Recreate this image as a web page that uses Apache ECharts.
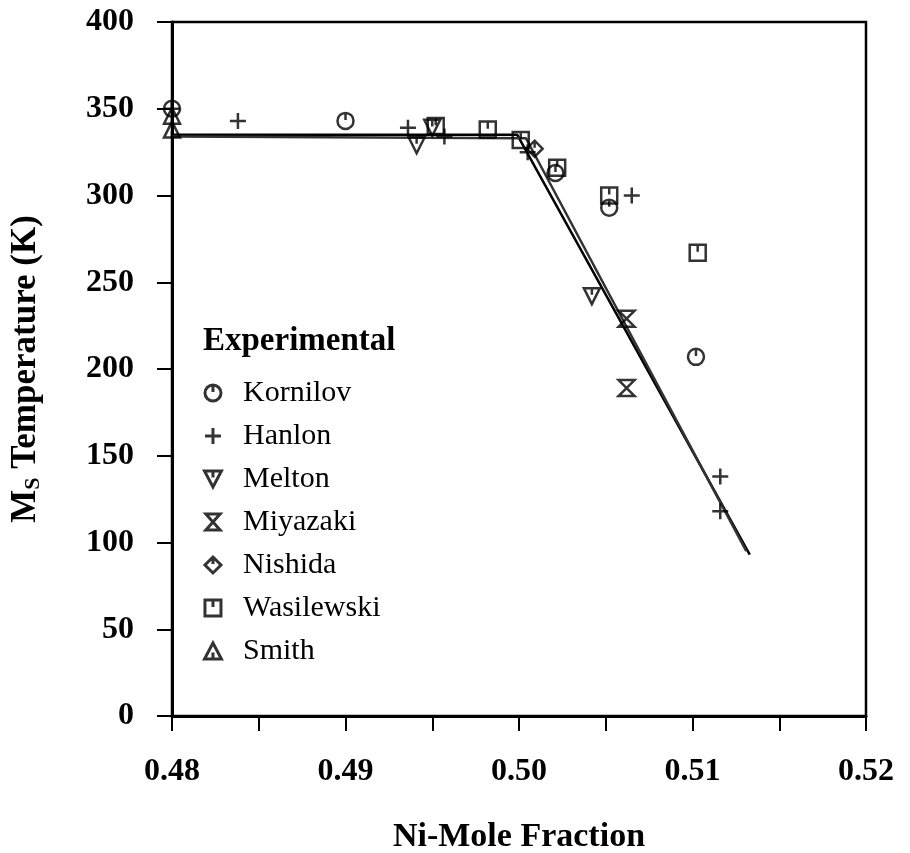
<!DOCTYPE html>
<html><head><meta charset="utf-8">
<script src="https://cdn.jsdelivr.net/npm/echarts@6/dist/echarts.min.js"></script>
<style>html,body{margin:0;padding:0;background:#fff}#c{width:910px;height:853px}</style>
</head><body><div id="c"></div>
<script>
// Data (Ni mole fraction, Ms temperature K)
const kornilov = [[0.48,350],[0.4900,343],[0.5021,313],[0.5052,293],[0.5102,207]];
const hanlon = [[0.48,350],[0.4838,343],[0.4936,339],[0.4957,334],[0.5005,325],[0.5065,300],[0.5116,138],[0.5116,118]];
const melton = [[0.4941,329],[0.4950,339],[0.5042,242]];
const miyazaki = [[0.5062,229],[0.5062,189]];
const nishida = [[0.5009,327]];
const wasilewski = [[0.4952,340],[0.4982,338],[0.5001,332],[0.5022,316],[0.5052,300],[0.5103,267]];
const smith = [[0.48,346],[0.48,338]];
const fitA = [[0.48,335],[0.4999,335],[0.5133,93]];
const fitB = [[0.48,334],[0.5004,333],[0.5131,95]];
const xTicks = ['0.48','0.49','0.50','0.51','0.52'];
const yTicks = [0,50,100,150,200,250,300,350,400];

const SERIF = 'Liberation Serif';
const sym = {
  Kornilov: 'path://M10 1 A9 9 0 1 1 9.99 1 Z M10 1 L10 9',
  Hanlon: 'path://M10 0 L10 20 M0 10 L20 10',
  Melton: 'path://M1 2 L19 2 L10 19 Z M10 2 L10 9',
  Miyazaki: 'path://M2 1 L18 1 L2 19 L18 19 Z',
  Nishida: 'path://M10 1 L19 10 L10 19 L1 10 Z M10 1 L10 9',
  Wasilewski: 'path://M1 1 L19 1 L19 19 L1 19 Z M10 1 L10 9',
  Smith: 'path://M10 1 L19 18 L1 18 Z M10 18 L10 11'
};
const sets = {Kornilov:kornilov,Hanlon:hanlon,Melton:melton,Miyazaki:miyazaki,Nishida:nishida,Wasilewski:wasilewski,Smith:smith};
const names = Object.keys(sets);
const series = names.map(n => ({
  name: n, type: 'scatter', data: sets[n], symbol: sym[n], symbolSize: 16,
  itemStyle: {color: 'rgba(255,255,255,0)', borderColor: '#000', borderWidth: 2.5},
  z: 3
}));
[fitA, fitB].forEach((d,i) => series.push({
  name: 'fit'+i, type: 'line', data: d, showSymbol: false, symbol: 'none',
  lineStyle: {color: i ? '#333' : '#000', width: 2.5}, z: 2, silent: true
}));

const chart = echarts.init(document.getElementById('c'));
chart.setOption({
  animation: false,
  backgroundColor: '#fff',
  grid: {left: 172, right: 44, top: 22, bottom: 137, outerBoundsMode: 'none', containLabel: false,
    show: true, borderColor: '#000', borderWidth: 2.5, backgroundColor: 'transparent'},
  title: {text: 'Experimental', left: 198, top: 320, textStyle: {fontFamily: SERIF, fontWeight: 'bold', fontSize: 33, color: '#000'}},
  legend: {
    data: names, orient: 'vertical', left: 198, top: 373, itemWidth: 30, itemHeight: 16, itemGap: 13,
    itemStyle: {color: 'rgba(255,255,255,0)', borderColor: '#000', borderWidth: 3},
    textStyle: {fontFamily: SERIF, fontSize: 30, color: '#000', lineHeight: 30, padding: [0,0,0,10]},
    inactiveColor: '#000'
  },
  xAxis: {
    type: 'value', min: 0.48, max: 0.52, interval: 0.01,
    axisLine: {show: true, onZero: false, lineStyle: {color: '#000', width: 3}},
    axisTick: {show: true, inside: false, length: 15, lineStyle: {color: '#000', width: 2}},
    minorTick: {show: true, splitNumber: 2, length: 15, lineStyle: {color: '#000', width: 2}},
    splitLine: {show: false},
    axisLabel: {margin: 40, fontFamily: SERIF, fontWeight: 'bold', fontSize: 32, color: '#000',
      formatter: v => xTicks[Math.round((v - 0.48) / 0.01)] || ''},
    name: 'Ni-Mole Fraction', nameLocation: 'middle', nameGap: 104,
    nameTextStyle: {fontFamily: SERIF, fontWeight: 'bold', fontSize: 34, color: '#000'}
  },
  yAxis: {
    type: 'value', min: 0, max: 400, interval: 50,
    axisLine: {show: true, onZero: false, lineStyle: {color: '#000', width: 3}},
    axisTick: {show: true, inside: false, length: 15, lineStyle: {color: '#000', width: 2}},
    splitLine: {show: false},
    axisLabel: {margin: 38, fontFamily: SERIF, fontWeight: 'bold', fontSize: 32, color: '#000',
      formatter: v => yTicks.includes(v) ? String(v) : ''},
    name: '{a|M}{s|S}{a| Temperature (K)}', nameLocation: 'middle', nameGap: 128, nameRotate: 90,
    nameTextStyle: {rich: {
      a: {fontFamily: SERIF, fontWeight: 'bold', fontSize: 35, color: '#000'},
      s: {fontFamily: SERIF, fontWeight: 'bold', fontSize: 22, color: '#000', padding: [14,0,0,0]}
    }}
  },
  series: series
});
</script></body></html>
